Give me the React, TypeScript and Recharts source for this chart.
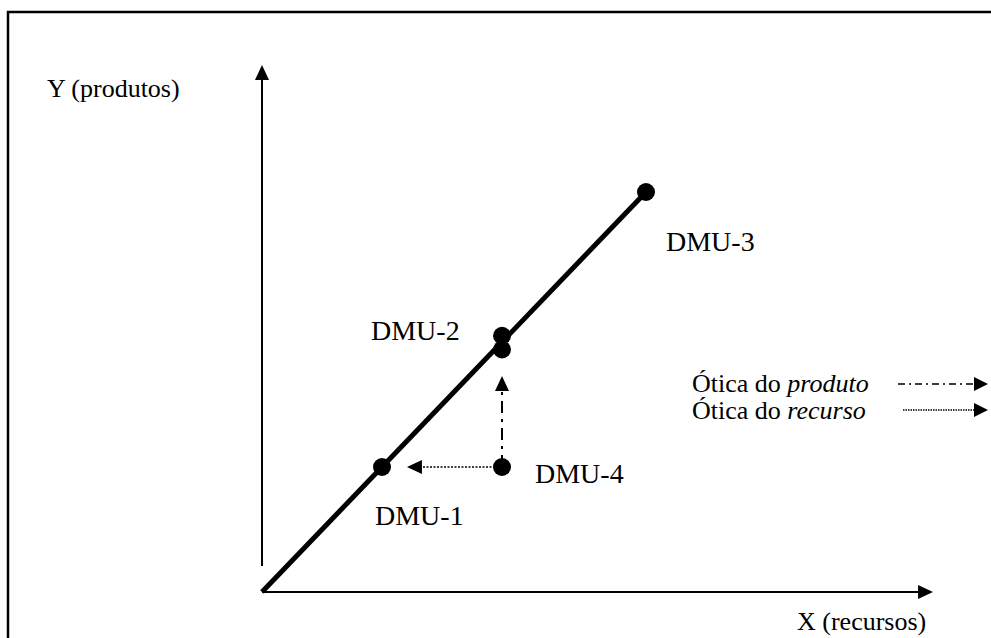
import React from 'react';
import {
  ComposedChart,
  Line,
  Scatter,
  XAxis,
  YAxis,
  ReferenceLine,
} from 'recharts';

// Frontier (constant returns to scale) from the origin to DMU-3
const frontierX = [0, 16];
const frontierY = [0, 16];

// DMUs
const dmuNames = ['DMU-1', 'DMU-2', 'DMU-2*', 'DMU-3', 'DMU-4'];
const dmuX = [5, 10, 10, 16, 10];
const dmuY = [5, 10.25, 9.7, 16, 5];

// Projections of DMU-4: output orientation (up) and input orientation (left)
const productTarget = { x: 10, y: 8.64 };
const resourceTarget = { x: 6.04, y: 5 };

// Axes extent (data units)
const xAxisEnd = 27.96;
const yAxisStart = 1.04;
const yAxisEnd = 21.08;

// ---- layout ----
const W = 991;
const H = 638;
const ORIGIN_X = 262;
const ORIGIN_Y = 592;
const X_UNIT = 24;
const Y_UNIT = 25;
const X_DOMAIN: [number, number] = [-ORIGIN_X / X_UNIT, (W - ORIGIN_X) / X_UNIT];
const Y_DOMAIN: [number, number] = [(ORIGIN_Y - H) / Y_UNIT, ORIGIN_Y / Y_UNIT];

const LABEL_OFFSET: Record<string, [number, number]> = {
  'DMU-1': [-7, 58],
  'DMU-2': [-131, 4],
  'DMU-3': [20, 59],
  'DMU-4': [33, 16],
};

const SERIF = 'Liberation Serif';

const frontier = frontierX.map((x, i) => ({ x, y: frontierY[i] }));
const dmus = dmuNames.map((name, i) => ({ name, x: dmuX[i], y: dmuY[i] }));

function arrowHead(x1: number, y1: number, x2: number, y2: number, len = 15, half = 7) {
  const a = Math.atan2(y2 - y1, x2 - x1);
  const bx = x2 - len * Math.cos(a);
  const by = y2 - len * Math.sin(a);
  const px = -Math.sin(a) * half;
  const py = Math.cos(a) * half;
  return {
    base: [bx, by] as [number, number],
    points: `${x2},${y2} ${bx + px},${by + py} ${bx - px},${by - py}`,
  };
}

function arrow(width: number, dash?: string) {
  return (props: any) => {
    const { x1, y1, x2, y2 } = props;
    const h = arrowHead(x1, y1, x2, y2);
    return (
      <g>
        <line
          x1={x1}
          y1={y1}
          x2={h.base[0]}
          y2={h.base[1]}
          stroke="#000"
          strokeWidth={width}
          strokeDasharray={dash}
        />
        <polygon points={h.points} fill="#000" />
      </g>
    );
  };
}

function DmuDot(props: any) {
  const { cx, cy, payload } = props;
  const off = LABEL_OFFSET[payload.name];
  return (
    <g>
      <circle cx={cx} cy={cy} r={9} fill="#000" />
      {off && (
        <text x={cx + off[0]} y={cy + off[1]} fontFamily={SERIF} fontSize={28} fill="#000">
          {payload.name}
        </text>
      )}
    </g>
  );
}

function LegendArrow({ x1, x2, y, dash, width }: { x1: number; x2: number; y: number; dash: string; width: number }) {
  const h = arrowHead(x1, y, x2, y, 14, 7);
  return (
    <g>
      <line x1={x1} y1={y} x2={h.base[0]} y2={y} stroke="#000" strokeWidth={width} strokeDasharray={dash} />
      <polygon points={h.points} fill="#000" />
    </g>
  );
}

export default function App() {
  return (
    <div style={{ position: 'fixed', left: 0, top: 0, width: W, height: H, background: '#fff', overflow: 'hidden', fontFamily: SERIF }}>
      <ComposedChart width={W} height={H} margin={{ top: 0, right: 0, bottom: 0, left: 0 }}>
        <XAxis type="number" dataKey="x" domain={X_DOMAIN} allowDataOverflow hide />
        <YAxis type="number" dataKey="y" domain={Y_DOMAIN} allowDataOverflow hide />
        <ReferenceLine
          segment={[{ x: 0, y: 0 }, { x: xAxisEnd, y: 0 }]}
          ifOverflow="visible"
          shape={arrow(2)}
        />
        <ReferenceLine
          segment={[{ x: 0, y: yAxisStart }, { x: 0, y: yAxisEnd }]}
          ifOverflow="visible"
          shape={arrow(2)}
        />
        <Line
          data={frontier}
          dataKey="y"
          type="linear"
          stroke="#000"
          strokeWidth={5}
          dot={false}
          activeDot={false}
          isAnimationActive={false}
        />
        <ReferenceLine
          segment={[{ x: dmuX[4], y: dmuY[4] }, productTarget]}
          ifOverflow="visible"
          shape={arrow(2, '12 6 3 6')}
        />
        <ReferenceLine
          segment={[{ x: dmuX[4], y: dmuY[4] }, resourceTarget]}
          ifOverflow="visible"
          shape={arrow(1.6, '2 1.5')}
        />
        <Scatter data={dmus} dataKey="y" shape={<DmuDot />} isAnimationActive={false} />
      </ComposedChart>
      <svg width={W} height={H} style={{ position: 'absolute', left: 0, top: 0, pointerEvents: 'none' }}>
        <path d={`M8 ${H + 10} V12 H${W + 10}`} fill="none" stroke="#000" strokeWidth={2.5} />
        <text x={47} y={97} fontFamily={SERIF} fontSize={26} fill="#000">
          Y (produtos)
        </text>
        <text x={797} y={630} fontFamily={SERIF} fontSize={26} fill="#000">
          X (recursos)
        </text>
        <text x={692} y={392} fontFamily={SERIF} fontSize={26} fill="#000">
          Ótica do <tspan fontStyle="italic">produto</tspan>
        </text>
        <text x={692} y={419} fontFamily={SERIF} fontSize={26} fill="#000">
          Ótica do <tspan fontStyle="italic">recurso</tspan>
        </text>
        <LegendArrow x1={898} x2={988} y={384} dash="7 4 2 4" width={1.6} />
        <LegendArrow x1={903} x2={988} y={410} dash="1.5 1" width={1.4} />
      </svg>
    </div>
  );
}
